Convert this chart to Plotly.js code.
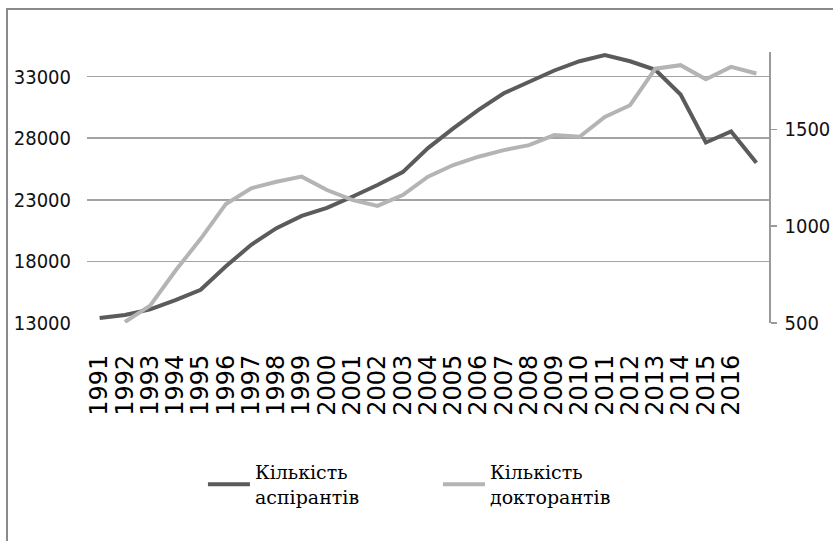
<!DOCTYPE html>
<html>
<head>
<meta charset="utf-8">
<script src="https://cdn.plot.ly/plotly-3.0.1.min.js"></script>
<style>
  html, body { margin: 0; padding: 0; background: #fff; }
  #wrap { position: relative; width: 833px; height: 541px; }
  #chart { width: 833px; height: 541px; }
  #frame { position: absolute; left: 6px; top: 8px; right: 0; bottom: 0;
           border-left: 2px solid #8a8a8a; border-top: 2px solid #8a8a8a; pointer-events: none; }
</style>
</head>
<body>
<div id="wrap">
  <div id="chart"></div>
  <div id="frame"></div>
</div>
<script>
// Categories (27 yearly points; the last one carries no tick label)
const years = ["1991","1992","1993","1994","1995","1996","1997","1998","1999","2000",
               "2001","2002","2003","2004","2005","2006","2007","2008","2009","2010",
               "2011","2012","2013","2014","2015","2016","2017"];
const tickLabels = ["1991","1992","1993","1994","1995","1996","1997","1998","1999","2000",
                    "2001","2002","2003","2004","2005","2006","2007","2008","2009","2010",
                    "2011","2012","2013","2014","2015","2016"];
// Кількість аспірантів (left axis)
const aspirants = [13400, 13650, 14100, 14850, 15700, 17600, 19350, 20700, 21700, 22350,
                   23250, 24200, 25250, 27200, 28800, 30300, 31650, 32600, 33500, 34250,
                   34750, 34250, 33550, 31550, 27650, 28550, 26000];
// Кількість докторантів (right axis)
const doctorants = [null, 505, 590, 770, 935, 1115, 1196, 1230, 1256, 1187,
                    1136, 1105, 1161, 1256, 1316, 1359, 1393, 1419, 1471, 1462,
                    1565, 1625, 1814, 1832, 1759, 1823, 1789];
const seriesNames = ["Кількість<br>аспірантів", "Кількість<br>докторантів"];

const narrow = "DejaVu Sans Condensed, Liberation Sans, sans-serif";
const serifFam = "DejaVu Serif";

const traces = [
  { x: years, y: aspirants, name: seriesNames[0], type: "scatter", mode: "lines",
    line: { color: "#5b5b5b", width: 4 }, yaxis: "y" },
  { x: years, y: doctorants, name: seriesNames[1], type: "scatter", mode: "lines",
    line: { color: "#b4b4b4", width: 4 }, yaxis: "y2", connectgaps: false }
];

const layout = {
  width: 833, height: 541,
  margin: { l: 87, r: 64, t: 52, b: 218 },
  paper_bgcolor: "#fff", plot_bgcolor: "#fff",
  showlegend: true,
  legend: {
    orientation: "h", x: 0.17, xanchor: "left", y: -0.48, yanchor: "top",
    font: { family: serifFam, size: 19, color: "#000" },
    entrywidth: 178, entrywidthmode: "pixels", valign: "middle",
    itemwidth: 42, traceorder: "normal"
  },
  xaxis: {
    type: "category", range: [-0.5, 26.5],
    tickmode: "array", tickvals: tickLabels, ticktext: tickLabels,
    tickangle: -90, showgrid: false, showline: false, zeroline: false, ticks: "",
    tickfont: { family: "DejaVu Sans, sans-serif", size: 24, color: "#000" },
    ticklabelstandoff: 26
  },
  yaxis: {
    range: [13000, 35000], tick0: 13000, dtick: 5000, tickmode: "linear", tickformat: "d",
    showgrid: true, gridcolor: "#a3a3a3", gridwidth: 1.6,
    showline: false, zeroline: false, ticks: "",
    tickfont: { family: narrow, size: 20, color: "#111" },
    ticklabelstandoff: 15
  },
  yaxis2: {
    overlaying: "y", side: "right",
    range: [500, 1900], tick0: 500, dtick: 500, tickmode: "linear", tickformat: "d",
    showgrid: false, zeroline: false,
    showline: true, linecolor: "#9a9a9a", linewidth: 1.5,
    ticks: "outside", ticklen: 6, tickcolor: "#9a9a9a", tickwidth: 1.5,
    tickfont: { family: narrow, size: 20, color: "#111" },
    ticklabelstandoff: 4
  }
};

Plotly.newPlot("chart", traces, layout, { displayModeBar: false, staticPlot: true });
</script>
</body>
</html>
